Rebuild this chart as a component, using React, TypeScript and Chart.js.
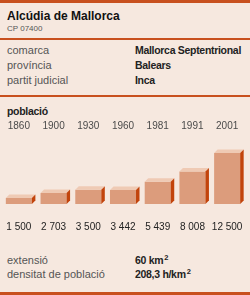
import React, { useEffect, useRef } from "react";
import { Chart, registerables } from "chart.js";

Chart.register(...registerables);

const years = ["1860", "1900", "1930", "1960", "1981", "1991", "2001"];
const population = [1500, 2703, 3500, 3442, 5439, 8008, 12500];
const populationLabels = ["1 500", "2 703", "3 500", "3 442", "5 439", "8 008", "12 500"];

const infoRows = [
  ["comarca", "Mallorca Septentrional"],
  ["província", "Balears"],
  ["partit judicial", "Inca"],
];

const BG = "#f6e8df";
const ORANGE = "#c8501e";
const FRONT = "#dc9c7c";
const TOP = "#efcab4";
const SIDE = "#c2440c";
const FONT = "'Liberation Sans', Arial, Helvetica, sans-serif";

const box3d = {
  id: "box3d",
  afterDatasetsDraw(chart: any) {
    const ctx = chart.ctx;
    const meta = chart.getDatasetMeta(0);
    const d = 3.5;
    ctx.save();
    meta.data.forEach((bar: any) => {
      const { x, y, base, width } = bar.getProps(["x", "y", "base", "width"], true);
      const l = x - width / 2;
      const r = x + width / 2;
      ctx.fillStyle = TOP;
      ctx.beginPath();
      ctx.moveTo(l, y);
      ctx.lineTo(l + d, y - d);
      ctx.lineTo(r + d, y - d);
      ctx.lineTo(r, y);
      ctx.closePath();
      ctx.fill();
      ctx.fillStyle = SIDE;
      ctx.beginPath();
      ctx.moveTo(r, y);
      ctx.lineTo(r + d, y - d);
      ctx.lineTo(r + d, base - d);
      ctx.lineTo(r, base);
      ctx.closePath();
      ctx.fill();
    });
    ctx.textAlign = "center";
    ctx.textBaseline = "middle";
    const xs = chart.scales.x;
    ctx.font = `10px ${FONT}`;
    ctx.fillStyle = "#4a4a4a";
    years.forEach((yr, i) => {
      ctx.fillText(yr, xs.getPixelForValue(i), 11.5);
    });
    ctx.fillStyle = "#222";
    populationLabels.forEach((lab, i) => {
      ctx.fillText(lab, xs.getPixelForValue(i), 112.5);
    });
    ctx.restore();
  },
};

function BarChart() {
  const ref = useRef<HTMLCanvasElement>(null);
  useEffect(() => {
    if (!ref.current) return;
    const chart = new Chart(ref.current, {
      type: "bar",
      data: {
        labels: years,
        datasets: [
          {
            data: population,
            backgroundColor: FRONT,
            borderWidth: 0,
            categoryPercentage: 1,
            barPercentage: 0.75,
          },
        ],
      },
      options: {
        animation: false,
        responsive: false,
        maintainAspectRatio: false,
        devicePixelRatio: 1,
        layout: { padding: { top: 32, bottom: 36, left: 1.5, right: 5.5 } },
        plugins: { legend: { display: false }, tooltip: { enabled: false } },
        scales: {
          x: { display: false, offset: true },
          y: { display: false, min: 0, max: 14000 },
        },
      },
      plugins: [box3d],
    });
    return () => chart.destroy();
  }, []);
  return (
    <canvas
      ref={ref}
      width={250}
      height={125}
      style={{ position: "absolute", left: 0, top: 115, width: 250, height: 125 }}
    />
  );
}

const abs = (top: number, left: number, extra: React.CSSProperties = {}): React.CSSProperties => ({
  position: "absolute",
  top,
  left,
  whiteSpace: "nowrap",
  ...extra,
});

export default function App() {
  const labelStyle: React.CSSProperties = { fontSize: 11, color: "#555", lineHeight: "14px" };
  const valueStyle: React.CSSProperties = {
    fontSize: 10.5,
    color: "#222",
    fontWeight: "bold",
    lineHeight: "14px",
    letterSpacing: "-0.3px",
  };
  const supStyle: React.CSSProperties = { fontSize: 7.5, lineHeight: 0, verticalAlign: "4px", marginLeft: 1 };
  return (
    <div
      style={{
        position: "fixed",
        top: 0,
        left: 0,
        width: 250,
        height: 295,
        background: BG,
        fontFamily: FONT,
        overflow: "hidden",
      }}
    >
      <div style={abs(0, 0, { width: 250, height: 3, background: ORANGE })} />
      <div style={abs(9.3, 7, { fontSize: 12, fontWeight: "bold", color: "#111", lineHeight: "15px" })}>
        Alcúdia de Mallorca
      </div>
      <div style={abs(24, 7, { fontSize: 8, color: "#555", lineHeight: "10px" })}>CP 07400</div>
      <div style={abs(38, 0, { width: 250, height: 2, background: ORANGE })} />
      {infoRows.map(([k, v], i) => (
        <React.Fragment key={k}>
          <div style={abs(42.5 + i * 15, 7, labelStyle)}>{k}</div>
          <div style={abs(42.8 + i * 15, 135, valueStyle)}>{v}</div>
        </React.Fragment>
      ))}
      <div style={abs(95, 0, { width: 250, height: 1.5, background: ORANGE })} />
      <div
        style={abs(104.4, 7, {
          fontSize: 10.5,
          fontWeight: "bold",
          color: "#222",
          lineHeight: "14px",
          letterSpacing: "-0.3px",
        })}
      >
        població
      </div>
      <BarChart />
      <div style={abs(253, 7, labelStyle)}>extensió</div>
      <div style={abs(253.3, 135, valueStyle)}>
        60 km<sup style={supStyle}>2</sup>
      </div>
      <div style={abs(267, 7, labelStyle)}>densitat de població</div>
      <div style={abs(267.3, 135, valueStyle)}>
        208,3 h/km<sup style={supStyle}>2</sup>
      </div>
      <div style={abs(292, 0, { width: 250, height: 3, background: ORANGE })} />
    </div>
  );
}
